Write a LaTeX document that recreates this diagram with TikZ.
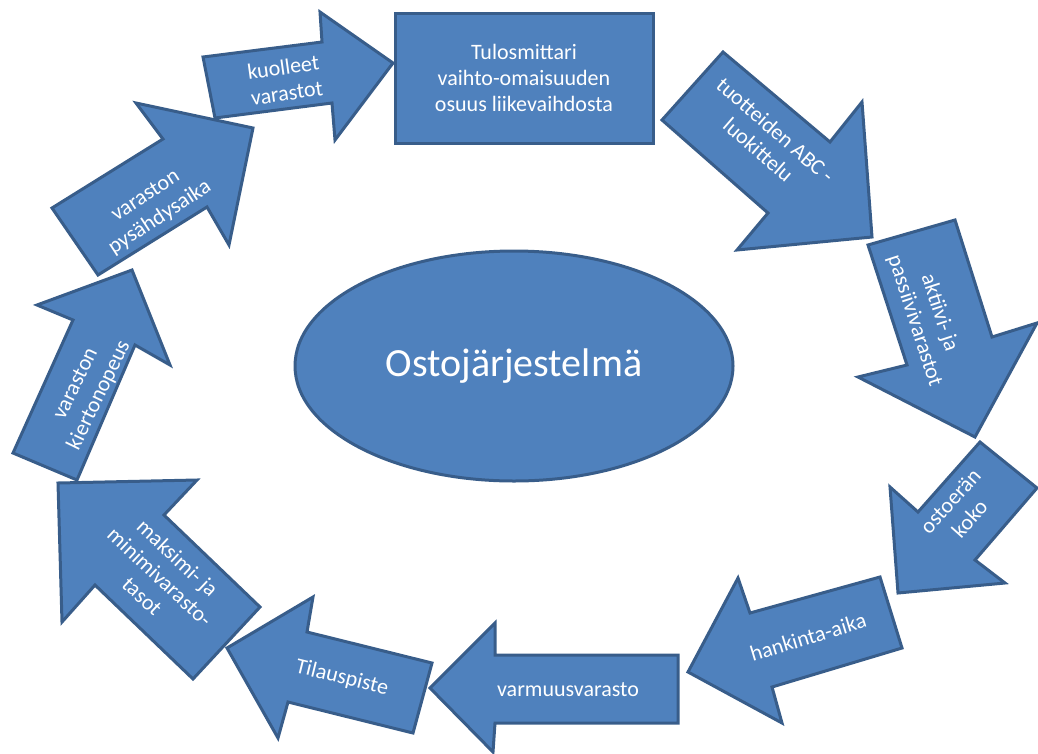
\documentclass[tikz,border=0pt]{standalone}
\usepackage{fontspec}
\setmainfont{Carlito}
\usetikzlibrary{shapes.geometric}
\definecolor{shapefill}{HTML}{4F81BD}
\definecolor{shapeline}{HTML}{385D8A}
\tikzset{
  blockarrow/.style={fill=shapefill, draw=shapeline, line width=3pt, line join=miter},
  lbl/.style={text=white, align=center, inner sep=0pt, font=\fontsize{22}{26}\selectfont},
}
\begin{document}
\begin{tikzpicture}[x=1pt,y=-1pt]
\useasboundingbox (0,0) rectangle (1038,753);

% central ellipse
\node[ellipse, blockarrow, minimum width=438pt, minimum height=230pt, text=white,
      font=\fontsize{40}{48}\selectfont, inner sep=0pt] (hub) at (514,366) {Ostojärjestelmä};

% top box
\node[rectangle, blockarrow, minimum width=258pt, minimum height=130pt, lbl] (gauge)
  at (524,78) {Tulosmittari\\vaihto-omaisuuden\\osuus liikevaihdosta};

% block arrows around the cycle
\draw[blockarrow] (203,57) -- (322,42) -- (320,12) -- (393,63) -- (335,140) -- (332,103) -- (215,118) -- cycle;
\draw[blockarrow] (723,52) -- (830,142) -- (862,102) -- (872,237) -- (737,250) -- (768,213) -- (662,120) -- cycle;
\draw[blockarrow] (868,245) -- (955,220) -- (992,337) -- (1037,323) -- (975,437) -- (858,377) -- (907,365) -- cycle;
\draw[blockarrow] (980,442) -- (1037,488) -- (975,560) -- (1005,583) -- (898,593) -- (890,487) -- (918,512) -- cycle;
\draw[blockarrow] (880,577) -- (902,648) -- (772,687) -- (782,723) -- (688,672) -- (738,578) -- (750,613) -- cycle;
\draw[blockarrow] (678,655) -- (678,723) -- (495,723) -- (493,752) -- (430,688) -- (495,623) -- (495,655) -- cycle;
\draw[blockarrow] (432,663) -- (413,733) -- (288,702) -- (278,738) -- (227,648) -- (313,597) -- (307,632) -- cycle;
\draw[blockarrow] (58,483) -- (197,480) -- (164,515) -- (260,607) -- (193,679) -- (95,585) -- (62,622) -- cycle;
\draw[blockarrow] (13,453) -- (77,480) -- (135,345) -- (170,365) -- (132,270) -- (37,305) -- (73,320) -- cycle;
\draw[blockarrow] (52,208) -- (98,275) -- (207,207) -- (229,245) -- (253,128) -- (136,103) -- (163,139) -- cycle;

% arrow labels
\node[lbl, rotate=8]   (dead)   at (285,80)  {kuolleet\\varastot};
\node[lbl, rotate=-41] (abc)    at (767,140) {tuotteiden ABC -\\luokittelu};
\node[lbl, rotate=-72] (active) at (927,317) {aktiivi- ja\\passiivivarastot};
\node[lbl, rotate=48]  (lot)    at (960,510) {ostoerän\\koko};
\node[lbl, rotate=17]  (lead)   at (808,637) {hankinta-aika};
\node[lbl]             (safety) at (568,690) {varmuusvarasto};
\node[lbl, rotate=-14] (order)  at (342,678) {Tilauspiste};
\node[lbl, rotate=-43] (minmax) at (160,577) {maksimi- ja\\minimivarasto-\\tasot};
\node[lbl, rotate=64]  (turn)   at (88,390)  {varaston\\kiertonopeus};
\node[lbl, rotate=33]  (idle)   at (153,207) {varaston\\pysähdysaika};
\end{tikzpicture}
\end{document}
